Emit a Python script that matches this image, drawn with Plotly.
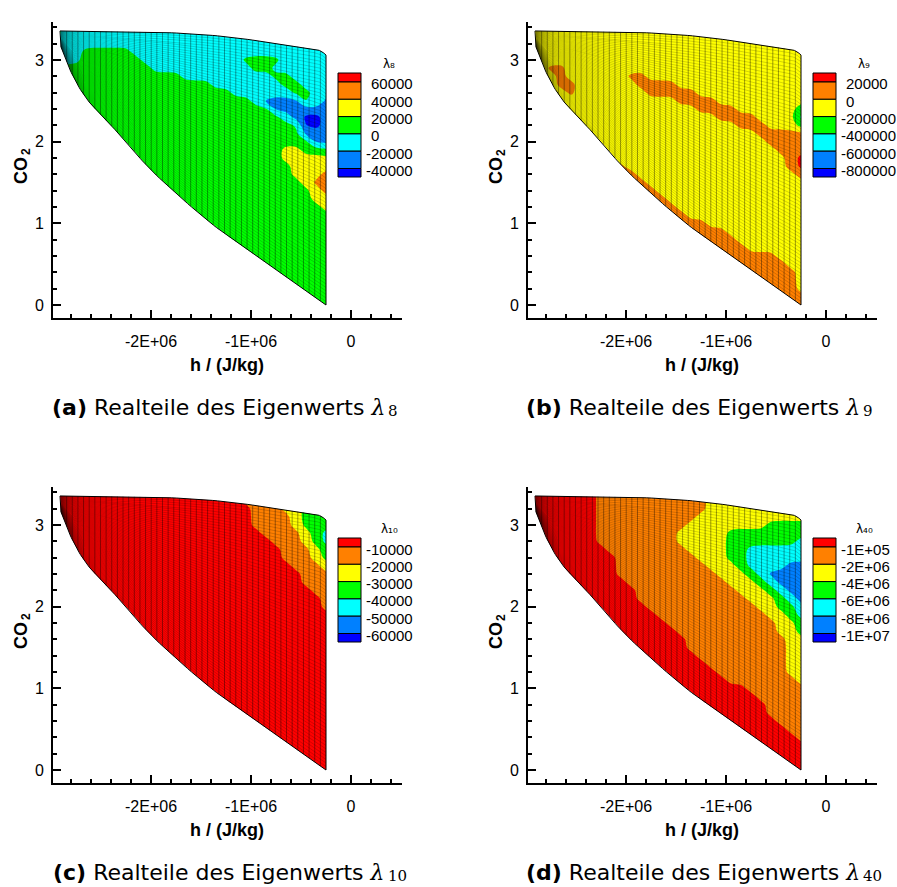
import numpy as np
import plotly.graph_objects as go

FIG_W, FIG_H = 897, 887

# Sampling nodes of the flooded eigenvalue fields: enthalpy h [J/kg] and CO2 loading
H_NODES = [round(-2.95e6 + 1.0e5 * k) for k in range(29)]
CO2_NODES = [round(0.1 * k, 1) for k in range(35)]

# Boundary of the (h, CO2) state domain
TOP_H = [-2.91e6, -1.96e6, -1.29e6, -0.63e6, -0.36e6, -0.29e6, -0.25e6]
TOP_C = [3.355, 3.34, 3.29, 3.18, 3.13, 3.10, 3.06]
BOTTOM_H = [-2.90e6, -2.777e6, -2.61e6, -2.293e6, -1.98e6, -1.44e6, -0.99e6, -0.25e6]
BOTTOM_C = [3.16, 2.795, 2.473, 2.061, 1.629, 1.041, 0.637, 0.0]

# Flood classes per node (0 = lowest band ... 6 = highest band),
# one string per CO2 row, top row (CO2 = 3.4) first, columns follow H_NODES.
LAMBDA8_CLASSES = [
    "32222222222222222222222222222",
    "32222222222222222222222222222",
    "22222222222222222222222222222",
    "22233333222222222222222222222",
    "22233333322222222223333222222",
    "23333333332222222222332222222",
    "33333333333332222222223322222",
    "33333333333333332222222332222",
    "33333333333333333322222233222",
    "33333333333333333333211113311",
    "33333333333333333333331111111",
    "33333333333333333333333210011",
    "33333333333333333333333330011",
    "33333333333333333333333331111",
    "33333333333333333333333333111",
    "33333333333333333333333443331",
    "33333333333333333333333444444",
    "33333333333333333333333344444",
    "33333333333333333333333344455",
    "33333333333333333333333334555",
    "33333333333333333333333333455",
    "33333333333333333333333333444",
    "33333333333333333333333333344",
    "33333333333333333333333333334",
    "33333333333333333333333333333",
    "33333333333333333333333333333",
    "33333333333333333333333333333",
    "33333333333333333333333333333",
    "33333333333333333333333333333",
    "33333333333333333333333333333",
    "33333333333333333333333333333",
    "33333333333333333333333333333",
    "33333333333333333333333333333",
    "33333333333333333333333333333",
    "33333333333333333333333333333",
]

LAMBDA9_CLASSES = [
    "44444444444444444444444444455",
    "44444444444444444444444444455",
    "44444444444444444444444444455",
    "44444444444444444444444444455",
    "44444444444444444444444444444",
    "44554444444444444444444444444",
    "44454444445544444444444444444",
    "44455444444555544444444444444",
    "44445444444455555444444444444",
    "44444444444444455554444444444",
    "44444444444444444555544444432",
    "44444444444444444445555444421",
    "44444444444444444444455544432",
    "44444444444444444444444555555",
    "44444444444444444444444455555",
    "44444444444444444444444445555",
    "44444444444444444444444444566",
    "44444444454444444444444444566",
    "44444444455444444444444444455",
    "44444444455544444444444444444",
    "44444444455554444444444444444",
    "44444444455555444444444444444",
    "44444444455555544444444444444",
    "44444444455555554444444444444",
    "44444444455555555544444444444",
    "44444444455555555555444444444",
    "44444444455555555555544444444",
    "44444444455555555555554444444",
    "44444444455555555555555554444",
    "44444444455555555555555555444",
    "44444444455555555555555555544",
    "44444444455555555555555555544",
    "44444444455555555555555555544",
    "44444444455555555555555555555",
    "44444444455555555555555555555",
]

LAMBDA10_CLASSES = [
    "66666666666666666665555444444",
    "66666666666666666665555444444",
    "66666666666666666666555443333",
    "66666666666666666666555543333",
    "66666666666666666666555543333",
    "66666666666666666666655554322",
    "66666666666666666666665554322",
    "66666666666666666666666555432",
    "66666666666666666666666555433",
    "66666666666666666666666655543",
    "66666666666666666666666665554",
    "66666666666666666666666665555",
    "66666666666666666666666666555",
    "66666666666666666666666666655",
    "66666666666666666666666666655",
    "66666666666666666666666666665",
    "66666666666666666666666666666",
    "66666666666666666666666666666",
    "66666666666666666666666666666",
    "66666666666666666666666666666",
    "66666666666666666666666666666",
    "66666666666666666666666666666",
    "66666666666666666666666666666",
    "66666666666666666666666666666",
    "66666666666666666666666666666",
    "66666666666666666666666666666",
    "66666666666666666666666666666",
    "66666666666666666666666666666",
    "66666666666666666666666666666",
    "66666666666666666666666666666",
    "66666666666666666666666666666",
    "66666666666666666666666666666",
    "66666666666666666666666666666",
    "66666666666666666666666666666",
    "66666666666666666666666666666",
]

LAMBDA40_CLASSES = [
    "66666665555555555544444444444",
    "66666665555555555544444444444",
    "66666665555555555544444444444",
    "66666665555555555444444444444",
    "66666665555555554444444433333",
    "66666665555555544444333333333",
    "66666665555555544444333333322",
    "66666666555555554444332222222",
    "66666666655555555444332222222",
    "66666666655555555544432222111",
    "66666666655555555554443211111",
    "66666666665555555555444321111",
    "66666666666555555555544432111",
    "66666666666555555555554443210",
    "66666666666655555555555443320",
    "66666666666665555555555544322",
    "66666666666666555555555554432",
    "66666666666666655555555554433",
    "66666666666666665555555555443",
    "66666666666666665555555555444",
    "66666666666666666555555555444",
    "66666666666666666655555555444",
    "66666666666666666665555555444",
    "66666666666666666666555555544",
    "66666666666666666666665555554",
    "66666666666666666666666555555",
    "66666666666666666666666655555",
    "66666666666666666666666655555",
    "66666666666666666666666665555",
    "66666666666666666666666666555",
    "66666666666666666666666666655",
    "66666666666666666666666666665",
    "66666666666666666666666666666",
    "66666666666666666666666666666",
    "66666666666666666666666666666",
]

# Contour level labels of the legends (top to bottom)
LAMBDA8_LEVELS = ["60000", "40000", "20000", "0", "-20000", "-40000"]
LAMBDA9_LEVELS = ["20000", "0", "-200000", "-400000", "-600000", "-800000"]
LAMBDA10_LEVELS = ["-10000", "-20000", "-30000", "-40000", "-50000", "-60000"]
LAMBDA40_LEVELS = ["-1E+05", "-2E+06", "-4E+06", "-6E+06", "-8E+06", "-1E+07"]

X_TICKS = [-2e6, -1e6, 0]
X_TICK_TEXT = ["-2E+06", "-1E+06", "0"]
Y_TICKS = [0, 1, 2, 3]
Y_TICK_TEXT = ["0", "1", "2", "3"]

BAND_COLORS = ["#0000ff", "#0080ff", "#00ffff", "#00ff00", "#ffff00", "#ff8000", "#ff0000"]

PANELS = [
    dict(tag="a", sub="8", classes=LAMBDA8_CLASSES, levels=LAMBDA8_LEVELS, dx=0, dy=0),
    dict(tag="b", sub="9", classes=LAMBDA9_CLASSES, levels=LAMBDA9_LEVELS, dx=475, dy=0),
    dict(tag="c", sub="10", classes=LAMBDA10_CLASSES, levels=LAMBDA10_LEVELS, dx=0, dy=465),
    dict(tag="d", sub="40", classes=LAMBDA40_CLASSES, levels=LAMBDA40_LEVELS, dx=475, dy=465),
]

for p in PANELS:
    assert len(p["classes"]) == len(CO2_NODES)
    for row in p["classes"]:
        assert len(row) == len(H_NODES), (p["tag"], row)

SUBSCRIPT = str.maketrans("0123456789", "₀₁₂₃₄₅₆₇₈₉")


def px(x):
    return x / FIG_W


def py(y):
    return 1 - y / FIG_H


def catmull_rom(xs, ys, n=14):
    """Smooth polyline through the given boundary points (h scaled to MJ/kg)."""
    P = np.column_stack([np.asarray(xs) / 1e6, np.asarray(ys)])
    P = np.vstack([P[0], P, P[-1]])
    out = []
    for i in range(1, len(P) - 2):
        p0, p1, p2, p3 = P[i - 1], P[i], P[i + 1], P[i + 2]
        for t in np.linspace(0, 1, n, endpoint=False):
            out.append(0.5 * (2 * p1 + (-p0 + p2) * t
                              + (2 * p0 - 5 * p1 + 4 * p2 - p3) * t * t
                              + (-p0 + 3 * p1 - 3 * p2 + p3) * t ** 3))
    out.append(P[-2])
    out = np.array(out)
    order = np.argsort(out[:, 0], kind="stable")
    return out[order, 0] * 1e6, out[order, 1]


top_h, top_c = catmull_rom(TOP_H, TOP_C)
bot_h, bot_c = catmull_rom(BOTTOM_H, BOTTOM_C)


def c_bot(h):
    return np.interp(h, bot_h, bot_c)


def c_top(h):
    return np.interp(h, top_h, top_c)


def soften(z):
    """1-2-1 smoothing so that the flood borders run smoothly."""
    zp = np.pad(z, 1, mode="edge")
    zh = (zp[:, :-2] + 2 * zp[:, 1:-1] + zp[:, 2:]) / 4
    zv = (zh[:-2, :] + 2 * zh[1:-1, :] + zh[2:, :]) / 4
    return 0.35 * z + 0.65 * zv


colorscale = [[k / 6, BAND_COLORS[k]] for k in range(7)]

# outline of the domain, closed
outline_x = list(top_h) + [-0.25e6] + list(bot_h[::-1]) + [top_h[0]]
outline_y = list(top_c) + [0.0] + list(bot_c[::-1]) + [top_c[0]]

# white masks covering the sampled rectangle outside of the domain
X_LO, X_HI, Y_LO, Y_HI = -2.965e6, -0.135e6, -0.05, 3.46
mask_above = (
    [X_LO, X_LO, bot_h[0]] + list(top_h) + [X_HI, X_HI],
    [Y_HI, bot_c[0], bot_c[0]] + list(top_c) + [top_c[-1], Y_HI],
)
mask_below = (
    [X_LO] + list(bot_h) + [bot_h[-1], X_LO],
    [bot_c[0]] + list(bot_c) + [Y_LO, Y_LO],
)
mask_right = (
    [-0.25e6, X_HI, X_HI, -0.25e6],
    [Y_LO, Y_LO, Y_HI, Y_HI],
)

# curvilinear mesh of the computation
vert_x, vert_y = [], []
for h in np.linspace(BOTTOM_H[0], -0.25e6, 48)[1:-1]:
    vert_x += [h, h, None]
    vert_y += [float(c_bot(h)), float(c_top(h)), None]
horz_x, horz_y = [], []
hh = np.linspace(BOTTOM_H[0], -0.25e6, 160)
cb, ct = c_bot(hh), c_top(hh)
for v in np.linspace(0, 1, 72)[1:-1]:
    horz_x += list(hh) + [None]
    horz_y += list(cb + v * (ct - cb)) + [None]

fig = go.Figure()
layout = dict(
    width=FIG_W, height=FIG_H, margin=dict(l=0, r=0, t=0, b=0),
    paper_bgcolor="white", plot_bgcolor="white", showlegend=False,
)
annotations, shapes = [], []

LEG_Y = [73, 82, 99.3, 116.6, 133.9, 151.2, 168.5, 177]


def note(x, y, text, size, family="Liberation Sans", anchor="center", angle=0):
    annotations.append(dict(
        x=px(x), y=py(y), xref="paper", yref="paper", showarrow=False, text=text,
        font=dict(family=family, size=size, color="black"), textangle=angle,
        xanchor=anchor, yanchor="middle", borderpad=0,
    ))


for n, p in enumerate(PANELS, start=1):
    dx, dy = p["dx"], p["dy"]
    xa = "x" if n == 1 else f"x{n}"
    ya = "y" if n == 1 else f"y{n}"
    z = np.array([[int(ch) for ch in row] for row in p["classes"][::-1]], dtype=float)

    fig.add_trace(go.Contour(
        x=H_NODES, y=CO2_NODES, z=soften(z), autocontour=False,
        contours=dict(start=0.5, end=5.5, size=1, coloring="fill", showlines=False),
        colorscale=colorscale, showscale=False, line=dict(width=0, smoothing=1.0),
        hoverinfo="skip", xaxis=xa, yaxis=ya,
    ))
    for mx, my in (mask_above, mask_below, mask_right):
        fig.add_trace(go.Scatter(
            x=mx, y=my, mode="lines", fill="toself", fillcolor="white",
            line=dict(width=0, color="white"), hoverinfo="skip", xaxis=xa, yaxis=ya,
        ))
    fig.add_trace(go.Scatter(
        x=horz_x, y=horz_y, mode="lines", line=dict(color="rgba(0,0,0,0.32)", width=0.55),
        hoverinfo="skip", xaxis=xa, yaxis=ya,
    ))
    fig.add_trace(go.Scatter(
        x=vert_x, y=vert_y, mode="lines", line=dict(color="rgba(0,0,0,0.5)", width=0.75),
        hoverinfo="skip", xaxis=xa, yaxis=ya,
    ))
    fig.add_trace(go.Scatter(
        x=outline_x, y=outline_y, mode="lines", line=dict(color="black", width=1),
        hoverinfo="skip", xaxis=xa, yaxis=ya,
    ))

    common = dict(
        showline=True, linecolor="black", linewidth=2, showgrid=False, zeroline=False,
        ticks="inside", ticklen=8, tickwidth=2, tickcolor="black",
        tickfont=dict(family="Liberation Sans", size=16, color="black"),
    )
    layout["xaxis" if n == 1 else f"xaxis{n}"] = dict(
        common, domain=[px(53 + dx), px(402 + dx)], anchor=ya,
        range=[-2.98e6, 0.51e6], tickmode="array", tickvals=X_TICKS, ticktext=X_TICK_TEXT,
        minor=dict(ticks="inside", ticklen=4, tickwidth=1.5, tickcolor="black", dtick=2e5, tick0=0),
        ticklabelstandoff=8,
    )
    layout["yaxis" if n == 1 else f"yaxis{n}"] = dict(
        common, domain=[py(318 + dy), py(22 + dy)], anchor=xa,
        range=[-0.159, 3.465], tickmode="array", tickvals=Y_TICKS, ticktext=Y_TICK_TEXT,
        minor=dict(ticks="inside", ticklen=4, tickwidth=1.5, tickcolor="black", dtick=0.2, tick0=0),
        ticklabelstandoff=4,
    )

    # axis titles (the CO2 subscript is set as its own small text)
    note(227 + dx, 365 + dy, "<b>h / (J/kg)</b>", 18)
    note(21 + dx, 171 + dy, "<b>CO</b>", 18, angle=-90)
    note(26 + dx, 152 + dy, "<b>2</b>", 12, angle=-90)

    # caption: main text ends right after the lambda, the index follows lowered
    note(386 + dx, 407 + dy,
         f"<b>({p['tag']})</b> Realteile des Eigenwerts "
         f"<span style='font-family:DejaVu Serif'><i>λ</i></span>",
         22, family="DejaVu Sans", anchor="right")
    note(386.5 + dx, 411 + dy, p["sub"], 15, family="DejaVu Serif", anchor="left")

    # legend: title, colour boxes, level labels
    note(389 + dx, 64 + dy, "λ" + p["sub"].translate(SUBSCRIPT), 12, family="DejaVu Sans")
    for k in range(7):
        shapes.append(dict(
            type="rect", xref="paper", yref="paper",
            x0=px(338 + dx), x1=px(361 + dx), y0=py(LEG_Y[k] + dy), y1=py(LEG_Y[k + 1] + dy),
            fillcolor=BAND_COLORS[6 - k], line=dict(color="black", width=1),
        ))
    for k, lab in enumerate(p["levels"]):
        x_lab = 365 if lab.startswith("-") else 370
        note(x_lab + dx, LEG_Y[k + 1] + 2 + dy, lab, 15, anchor="left")

layout["annotations"] = annotations
layout["shapes"] = shapes
fig.update_layout(**layout)
fig.write_html("out.html")
